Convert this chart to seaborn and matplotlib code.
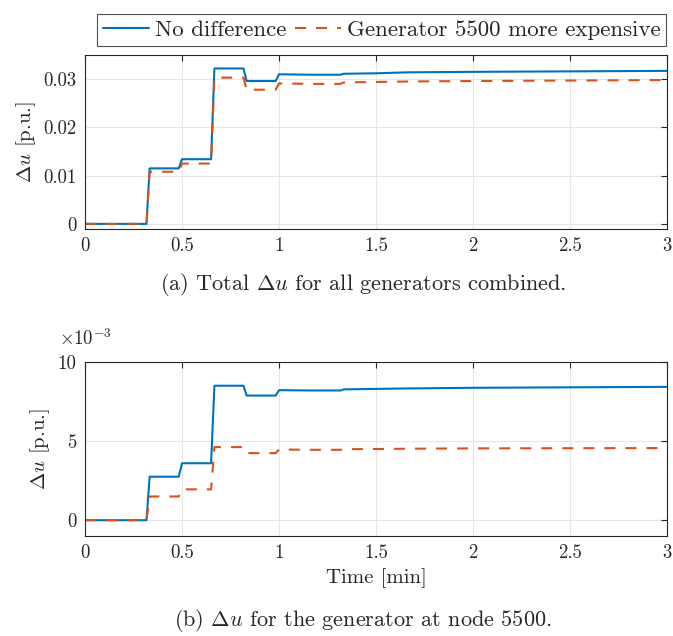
import matplotlib
matplotlib.use("Agg")
import matplotlib.pyplot as plt
import matplotlib.ticker as mticker
import numpy as np
import pandas as pd
import seaborn as sns

# breakpoints of the step responses (time in minutes)
time_min = [0, 0.317, 0.333, 0.483, 0.5, 0.65, 0.667, 0.817, 0.833, 0.983, 1.0,
            1.167, 1.317, 1.333, 1.5, 1.667, 2.0, 2.5, 3.0]

# (a) total delta u for all generators
total_same = [0, 0, 0.0115, 0.0115, 0.0134, 0.0134, 0.0322, 0.0322, 0.0296, 0.0296, 0.0310,
              0.0309, 0.0309, 0.0311, 0.0312, 0.0314, 0.0315, 0.0316, 0.0317]
total_expensive = [0, 0, 0.0108, 0.0108, 0.0125, 0.0125, 0.0303, 0.0303, 0.0278, 0.0278, 0.0291,
                   0.0290, 0.0290, 0.0293, 0.0294, 0.0295, 0.0296, 0.0297, 0.0298]

# (b) delta u for generator at node 5500 (in 1e-3 p.u.)
node_same = [0, 0, 2.75, 2.75, 3.6, 3.6, 8.5, 8.5, 7.88, 7.88, 8.22,
             8.2, 8.2, 8.27, 8.3, 8.33, 8.37, 8.4, 8.43]
node_expensive = [0, 0, 1.5, 1.5, 1.95, 1.95, 4.62, 4.62, 4.24, 4.24, 4.47,
                  4.45, 4.45, 4.49, 4.5, 4.52, 4.54, 4.55, 4.56]

labels = ['No difference', 'Generator 5500 more expensive']
colors = ['#0072BD', '#D95319']

sns.set_style('whitegrid')
plt.rcParams['font.family'] = ['cmr10', 'DejaVu Serif']
plt.rcParams['mathtext.fontset'] = 'cm'
plt.rcParams['axes.formatter.use_mathtext'] = True
plt.rcParams['axes.unicode_minus'] = False

fig = plt.figure(figsize=(6.73, 6.36), dpi=100)
ax1 = fig.add_axes([0.1263, 0.640, 0.8648, 0.2736])
ax2 = fig.add_axes([0.1263, 0.1572, 0.8648, 0.2736])

def draw(ax, same, expensive, scale=1.0):
    df = pd.DataFrame({'t': time_min * 2,
                       'du': np.array(same + expensive) * scale,
                       'case': [labels[0]] * len(same) + [labels[1]] * len(expensive)})
    sns.lineplot(data=df, x='t', y='du', hue='case', style='case', palette=colors,
                 dashes={labels[0]: '', labels[1]: (5.3, 4.8)}, linewidth=1.5,
                 ax=ax, legend=False)
    ax.set_xlim(0, 3)
    ax.set_xticks([0, 0.5, 1, 1.5, 2, 2.5, 3])
    ax.xaxis.set_major_formatter(mticker.FormatStrFormatter('%g'))
    ax.grid(True, color='#e6e6e6', linewidth=0.8)
    for sp in ax.spines.values():
        sp.set_color('#262626')
        sp.set_linewidth(0.8)
    ax.tick_params(direction='in', length=4, width=0.8, color='#262626',
                   top=True, right=True, labelsize=13.5, pad=6)
    ax.set_ylabel(r'$\Delta u$ [p.u.]', fontsize=15)
    ax.set_xlabel('')

draw(ax1, total_same, total_expensive)
ax1.set_ylim(-0.00105, 0.035)
ax1.set_yticks([0, 0.01, 0.02, 0.03])
ax1.yaxis.set_major_formatter(mticker.FormatStrFormatter('%g'))

draw(ax2, node_same, node_expensive, scale=1e-3)
ax2.set_ylim(-0.001, 0.010)
ax2.set_yticks([0, 0.005, 0.010])
ax2.yaxis.set_major_formatter(mticker.FuncFormatter(lambda v, p: '%g' % round(v * 1e3, 6)))
ax2.text(0, 1.095, r'$\times10^{-3}$', transform=ax2.transAxes, ha='center',
         va='baseline', fontsize=13.5)
ax2.set_xlabel('Time [min]', fontsize=15)

fig.text(0.539, 1 - 284 / 636, r'(a) Total $\Delta u$ for all generators combined.',
         ha='center', va='center', fontsize=16)
fig.text(0.539, 1 - 620 / 636, r'(b) $\Delta u$ for the generator at node 5500.',
         ha='center', va='center', fontsize=16)

handles = [plt.Line2D([], [], color=colors[0], linewidth=1.5),
           plt.Line2D([], [], color=colors[1], linewidth=1.5, dashes=(5.3, 4.8))]
leg = fig.legend(handles, labels, ncol=2, loc='upper center',
                 bbox_to_anchor=(0.567, 1 - 3 / 636), fontsize=16.5, frameon=True,
                 fancybox=False, edgecolor='#262626', handlelength=2.0,
                 handletextpad=0.25, columnspacing=0.4, borderpad=0.25)
leg.get_frame().set_linewidth(0.8)

fig.savefig('out.png', dpi=100)
